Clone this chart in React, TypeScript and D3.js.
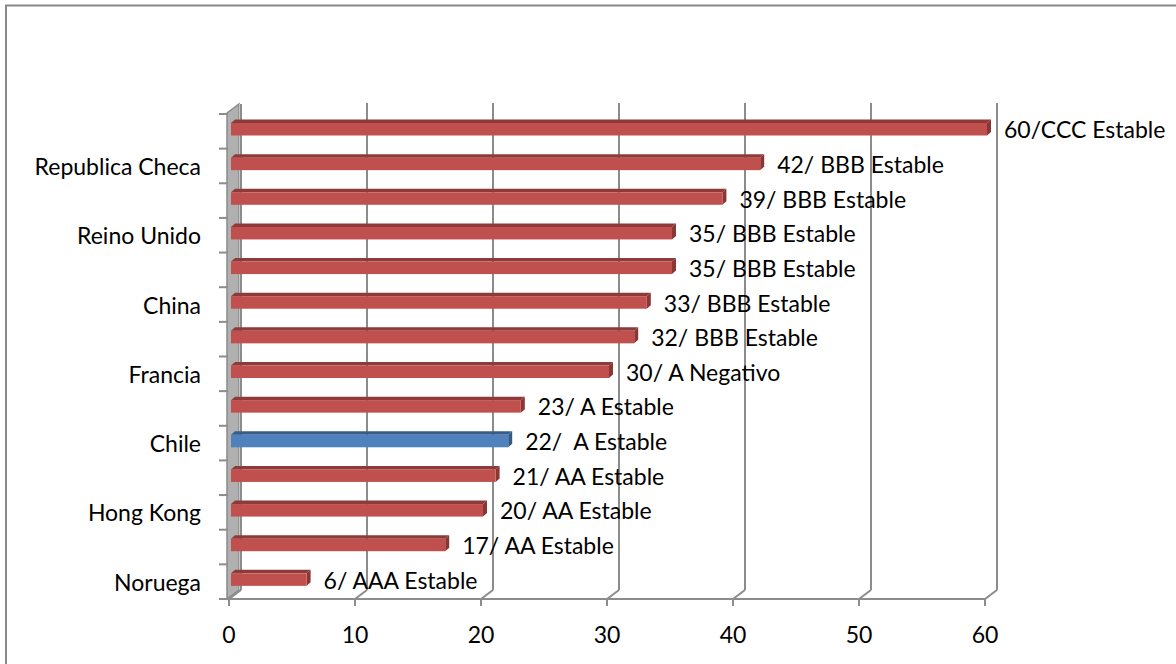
import React from "react";
import * as d3 from "d3";

const categories = [
  "", "Republica Checa", "", "Reino Unido", "", "China", "",
  "Francia", "", "Chile", "", "Hong Kong", "", "Noruega",
];
const values = [60, 42, 39, 35, 35, 33, 32, 30, 23, 22, 21, 20, 17, 6];
const dataLabels = [
  "60/CCC Estable", "42/ BBB Estable", "39/ BBB Estable", "35/ BBB Estable",
  "35/ BBB Estable", "33/ BBB Estable", "32/ BBB Estable", "30/ A Negativo",
  "23/ A Estable", "22/  A Estable", "21/ AA Estable", "20/ AA Estable",
  "17/ AA Estable", "6/ AAA Estable",
];
const highlight = [false, false, false, false, false, false, false, false, false, true, false, false, false, false];
const xTicks = [0, 10, 20, 30, 40, 50, 60];

const W = 1176, H = 664;
const FONT = "Lato, Carlito, 'Open Sans', sans-serif";
const FS = 23;

export default function App() {
  const x = d3.scaleLinear().domain([0, 60]).range([229, 985]);
  const y = d3.scaleBand<number>().domain(d3.range(values.length)).range([114, 599]).paddingInner(0).paddingOuter(0);
  const dx = 12, dy = -9; // depth of the 3D box
  const bdx = 4, bdy = -3.5; // bar depth
  const yTop = 113, yBot = 599;
  const barShift = 2;

  const red = { front: "#C0504D", top: "#8E3A38", side: "#8A3634" };
  const blue = { front: "#4F81BD", top: "#385D8A", side: "#375A85" };

  return (
    <svg width={W} height={H} style={{ position: "absolute", left: 0, top: 0, background: "#fff" }}>
      <rect x={6} y={5.5} width={W + 20} height={H + 20} fill="#fff" stroke="#898989" strokeWidth={2} />
      {/* left wall */}
      <polygon
        points={`${x(0) - 2},${yTop} ${x(0) + dx - 2},${yTop + dy} ${x(0) + dx - 2},${yBot + dy} ${x(0) - 2},${yBot}`}
        fill="#B0B0B0" stroke="#8A8A8A" strokeWidth={1.5}
      />
      <line x1={x(0) + dx - 1} x2={x(0) + dx - 1} y1={yTop + dy} y2={yBot + dy} stroke="#D0D0D0" strokeWidth={1.5} />
      {/* gridlines on back wall and floor */}
      {xTicks.map((t) => (
        <g key={t}>
          <line x1={x(t) + dx} x2={x(t) + dx} y1={yTop + dy + (t === 0 ? 0 : -1)} y2={yBot + dy} stroke="#8C8C8C" strokeWidth={2} />
          <line x1={x(t) + dx} x2={x(t)} y1={yBot + dy} y2={yBot} stroke="#8C8C8C" strokeWidth={2} />
          <line x1={x(t)} x2={x(t)} y1={yBot} y2={yBot + 7} stroke="#8C8C8C" strokeWidth={2} />
          <text x={x(t)} y={643} textAnchor="middle" fontFamily={FONT} fontSize={FS} fill="#000">{t}</text>
        </g>
      ))}
      {/* floor front edge */}
      <line x1={x(0) - 2} x2={x(60)} y1={yBot} y2={yBot} stroke="#8C8C8C" strokeWidth={2} />
      {/* y ticks */}
      {d3.range(values.length + 1).map((i) => {
        const yy = 114 + i * y.step();
        return <line key={i} x1={219} x2={228} y1={yy} y2={yy} stroke="#8C8C8C" strokeWidth={2} />;
      })}
      {/* bars */}
      {values.map((v, i) => {
        const c = highlight[i] ? blue : red;
        const b = y(i)!;
        const ft = b + 9;
        const fb = b + 21.5;
        const x0 = x(0) + barShift;
        const x1 = x(v) + barShift;
        return (
          <g key={i}>
            <polygon points={`${x0},${ft} ${x1},${ft} ${x1 + bdx},${ft + bdy} ${x0 + bdx},${ft + bdy}`} fill={c.top} />
            <polygon points={`${x1},${ft} ${x1 + bdx},${ft + bdy} ${x1 + bdx},${fb + bdy} ${x1},${fb}`} fill={c.side} />
            <rect x={x0} y={ft} width={x1 - x0} height={fb - ft} fill={c.front} />
          </g>
        );
      })}
      {/* data labels */}
      {values.map((v, i) => (
        <text key={i} x={x(v) + barShift + bdx + 13} y={y(i)! + y.bandwidth() / 2 - 2} dominantBaseline="central"
          fontFamily={FONT} fontSize={FS} fill="#000" style={{ whiteSpace: "pre" }}>
          {dataLabels[i]}
        </text>
      ))}
      {/* category labels */}
      {categories.map((c, i) =>
        c ? (
          <text key={i} x={201} y={y(i)! + y.bandwidth() / 2} dominantBaseline="central" textAnchor="end"
            fontFamily={FONT} fontSize={FS} fill="#000">
            {c}
          </text>
        ) : null
      )}
    </svg>
  );
}
